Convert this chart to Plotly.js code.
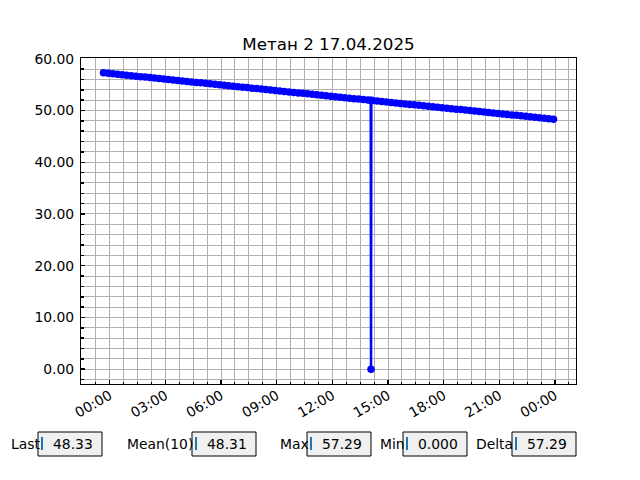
<!DOCTYPE html>
<html>
<head>
<meta charset="utf-8">
<script src="https://cdn.plot.ly/plotly-3.0.1.min.js"></script>
<style>html,body{margin:0;padding:0;background:#fff;}#chart{width:640px;height:480px;}</style>
</head>
<body>
<div id="chart"></div>
<script>
// ---- data ----
const chartTitle = 'Метан 2 17.04.2025';
const startDay = '2025-04-16';
const times = [
  '23:40','23:55',
  '00:10','00:25','00:40','00:55',
  '01:10','01:25','01:40','01:55',
  '02:10','02:25','02:40','02:55',
  '03:10','03:25','03:40','03:55',
  '04:10','04:25','04:40','04:55',
  '05:10','05:25','05:40','05:55',
  '06:10','06:25','06:40','06:55',
  '07:10','07:25','07:40','07:55',
  '08:10','08:25','08:40','08:55',
  '09:10','09:25','09:40','09:55',
  '10:10','10:25','10:40','10:55',
  '11:10','11:25','11:40','11:55',
  '12:10','12:25','12:40','12:55',
  '13:10','13:25','13:40','13:55',
  '14:04','14:05','14:06',
  '14:10','14:25','14:40','14:55',
  '15:10','15:25','15:40','15:55',
  '16:10','16:25','16:40','16:55',
  '17:10','17:25','17:40','17:55',
  '18:10','18:25','18:40','18:55',
  '19:10','19:25','19:40','19:55',
  '20:10','20:25','20:40','20:55',
  '21:10','21:25','21:40','21:55',
  '22:10','22:25','22:40','22:55',
  '23:10','23:25','23:40','23:55'
];
const values = [
  57.29, 57.20,
  57.11, 57.01, 56.92, 56.83,
  56.74, 56.64, 56.55, 56.46,
  56.37, 56.27, 56.18, 56.09,
  56.00, 55.90, 55.81, 55.72,
  55.63, 55.53, 55.44, 55.35,
  55.26, 55.16, 55.07, 54.98,
  54.89, 54.80, 54.70, 54.61,
  54.52, 54.43, 54.33, 54.24,
  54.15, 54.06, 53.96, 53.87,
  53.78, 53.69, 53.59, 53.50,
  53.41, 53.32, 53.22, 53.13,
  53.04, 52.95, 52.85, 52.76,
  52.67, 52.58, 52.49, 52.39,
  52.30, 52.21, 52.12, 52.02,
  51.97, 0.00, 51.96,
  51.93, 51.84, 51.75, 51.65,
  51.56, 51.47, 51.38, 51.28,
  51.19, 51.10, 51.01, 50.91,
  50.82, 50.73, 50.64, 50.54,
  50.45, 50.36, 50.27, 50.18,
  50.08, 49.99, 49.90, 49.81,
  49.71, 49.62, 49.53, 49.44,
  49.34, 49.25, 49.16, 49.07,
  48.97, 48.88, 48.79, 48.70,
  48.60, 48.51, 48.42, 48.33
];
const statLabels = ['Last', 'Mean(10)', 'Max', 'Min', 'Delta'];
const statValues = ['48.33', '48.31', '57.29', '0.000', '57.29'];

// ---- build datetimes with day rollover ----
function addDays(d, n){ const dt = new Date(d + 'T00:00:00Z'); dt.setUTCDate(dt.getUTCDate()+n); return dt.toISOString().slice(0,10); }
const xs = [];
let dayOff = 0, prev = null;
times.forEach(t => {
  if (prev !== null && t < prev) dayOff++;
  prev = t;
  xs.push(addDays(startDay, dayOff) + ' ' + t);
});

// ---- layout geometry (pixels) ----
const PL = 81, PR = 576, PT = 58, PB = 384;
const W = 640, H = 480;
function px(x){ return (x - PL) / (PR - PL); }
function py(y){ return (PB - y) / (PB - PT); }

const labelX = [9, 125, 278, 378, 474];
const boxL = [38, 192, 307, 403, 512];
const boxR = [102, 256, 371, 467, 576];
const boxTop = 432, boxBot = 456, boxMid = 444;

const FONT = 'DejaVu Sans';
const shapes = [], annotations = [];
statLabels.forEach((lab, i) => {
  shapes.push({type:'rect', xref:'paper', yref:'paper', x0:px(boxL[i]), x1:px(boxR[i]), y0:py(boxBot), y1:py(boxTop),
    line:{color:'#000', width:1}, fillcolor:'#f0f0f0', layer:'above'});
  shapes.push({type:'line', xref:'paper', yref:'paper', x0:px(boxL[i]+4), x1:px(boxL[i]+4), y0:py(450), y1:py(437),
    line:{color:'#1f77b4', width:2}, layer:'above'});
  annotations.push({xref:'paper', yref:'paper', x:px(labelX[i]), y:py(boxMid), xanchor:'left', yanchor:'middle',
    text:lab, showarrow:false, font:{family:FONT, size:13.9, color:'#000'}});
  annotations.push({xref:'paper', yref:'paper', x:px(boxL[i]+13), y:py(boxMid), xanchor:'left', yanchor:'middle',
    text:statValues[i], showarrow:false, font:{family:FONT, size:13.9, color:'#000'}});
});

const xRange = ['2025-04-16 22:27:15', '2025-04-18 01:07:45'];

// helper (invisible) trace so the base grid axis exists
const gridHelper = {x:[xs[0]], y:[values[0]], xaxis:'x', yaxis:'y', type:'scatter', mode:'markers',
  marker:{opacity:0}, hoverinfo:'skip', showlegend:false};

const trace = {
  x: xs, y: values, xaxis:'x2', yaxis:'y', type:'scatter', mode:'lines+markers',
  line:{color:'#0000ff', width:2.5},
  marker:{color:'#0000ff', size:7.5},
  hoverinfo:'skip'
};

const layout = {
  width: W, height: H,
  paper_bgcolor:'#fff', plot_bgcolor:'#fff',
  margin:{l:PL, r:W-PR, t:PT, b:H-PB, pad:0},
  showlegend:false,
  font:{family:FONT, size:13.9, color:'#000'},
  title:{text:chartTitle, x:px(328.5), xref:'paper', xanchor:'center', y:1-44/H, yanchor:'middle',
    font:{family:FONT, size:16.7, color:'#000'}},
  // minor grid axis (every 45 min)
  xaxis:{
    type:'date', range:xRange,
    tickmode:'linear', tick0:'2025-04-17 00:00', dtick:45*60*1000,
    showticklabels:false,
    ticks:'inside', ticklen:2.5, tickwidth:1, tickcolor:'#000',
    showgrid:true, gridcolor:'#b0b0b0', gridwidth:1,
    showline:true, linecolor:'#000', linewidth:1, mirror:true,
    zeroline:false
  },
  // major ticks & labels (every 3 h)
  xaxis2:{
    type:'date', range:xRange, overlaying:'x', anchor:'y', side:'bottom',
    tickmode:'linear', tick0:'2025-04-17 00:00', dtick:3*3600*1000, tickformat:'%H:%M', tickangle:-30,
    ticks:'inside', ticklen:4, tickwidth:1.5, tickcolor:'#000',
    showgrid:false, showline:false, zeroline:false,
    tickfont:{family:FONT, size:13.9, color:'#000'}
  },
  yaxis:{
    range:[-2.865, 60.155],
    tick0:0, dtick:10, tickformat:'.2f',
    ticks:'inside', ticklen:4, tickwidth:1.5, tickcolor:'#000',
    ticklabelstandoff:3,
    showgrid:true, gridcolor:'#b0b0b0', gridwidth:1,
    showline:true, linecolor:'#000', linewidth:1, mirror:true,
    zeroline:false,
    minor:{dtick:2, tick0:0, ticks:'inside', ticklen:2.5, tickcolor:'#000', showgrid:true, gridcolor:'#b0b0b0', gridwidth:1},
    tickfont:{family:FONT, size:13.9, color:'#000'}
  },
  shapes: shapes,
  annotations: annotations
};

Plotly.newPlot('chart', [gridHelper, trace], layout, {displayModeBar:false, staticPlot:true});
</script>
</body>
</html>
